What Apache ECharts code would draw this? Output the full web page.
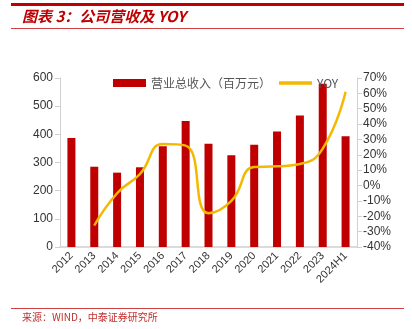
<!DOCTYPE html>
<html><head><meta charset="utf-8">
<script src="https://cdn.jsdelivr.net/npm/echarts@6/dist/echarts.min.js"></script>
<style>html,body{margin:0;padding:0;background:#fff}#c{width:412px;height:329px}</style>
</head><body><div id="c"></div>
<script>
const categories = ['2012','2013','2014','2015','2016','2017','2018','2019','2020','2021','2022','2023','2024H1'];
const revenue = [387, 285, 264, 283, 358, 447, 367, 326, 363, 410, 467, 580, 393];
const yoy = [null, -26, -5, 7.5, 27, 26, -18, -10, 12, 12.5, 14, 24, 61];
const leftTicks = [0, 100, 200, 300, 400, 500, 600];
const rightTicks = [-40, -30, -20, -10, 0, 10, 20, 30, 40, 50, 60, 70];

const chart = echarts.init(document.getElementById('c'));
const red = '#C00000';
chart.setOption({
  animation: false,
  textStyle: { fontFamily: 'Liberation Sans, Arial, sans-serif' },
  graphic: [
    { type: 'rect', shape: { x: 11, y: 3, width: 393, height: 3 }, style: { fill: red } },
    { type: 'text', left: 22, top: 9, style: { text: '图表 3：公司营收及 YOY', fill: red, font: 'italic bold 15px "Noto Sans CJK SC", sans-serif' } },
    { type: 'rect', shape: { x: 11, y: 28, width: 393, height: 1 }, style: { fill: '#D04040' } },
    { type: 'rect', shape: { x: 11, y: 308, width: 393, height: 1 }, style: { fill: '#D04040' } },
    { type: 'text', left: 22, top: 312, style: { text: '来源：WIND，中泰证券研究所', fill: '#C03030', font: '10px "Noto Sans CJK SC", sans-serif' } }
  ],
  legend: {
    top: 72, left: 108,
    itemGap: 8,
    textStyle: { fontSize: 12, color: '#555', fontFamily: '"Noto Sans CJK SC", sans-serif' },
    data: [
      { name: '营业总收入（百万元）', icon: 'rect', itemStyle: { color: red } },
      { name: 'YOY', icon: 'path://M0,0 L10,0 L10,1 L0,1 Z' }
    ],
    itemWidth: 33, itemHeight: 8
  },
  grid: { left: 60, right: 55, top: 78, bottom: 82 },
  xAxis: {
    type: 'category', data: categories,
    axisLine: { lineStyle: { color: '#D0D0D0', width: 1.5 } },
    axisTick: { show: false },
    axisLabel: { rotate: 45, color: '#333', fontSize: 11, margin: 7, interval: 0 }
  },
  yAxis: [
    {
      type: 'value', min: 0, max: 600, interval: 100,
      axisLine: { show: true, lineStyle: { color: '#D0D0D0' } },
      axisTick: { show: true, length: 5, lineStyle: { color: '#D0D0D0' } },
      splitLine: { show: false },
      axisLabel: { color: '#333', fontSize: 12, margin: 7 }
    },
    {
      type: 'value', min: -40, max: 70, interval: 10,
      axisLine: { show: true, lineStyle: { color: '#D0D0D0' } },
      axisTick: { show: true, length: 5, lineStyle: { color: '#D0D0D0' } },
      splitLine: { show: false },
      axisLabel: { color: '#333', fontSize: 12, margin: 6, formatter: v => v + '%' }
    }
  ],
  series: [
    { name: '营业总收入（百万元）', type: 'bar', data: revenue, barWidth: 8, itemStyle: { color: red } },
    { name: 'YOY', type: 'line', yAxisIndex: 1, data: yoy, smooth: 0.5, showSymbol: false,
      lineStyle: { color: '#F5B800', width: 2.5 }, itemStyle: { color: '#F5B800' } }
  ]
});
</script></body></html>
